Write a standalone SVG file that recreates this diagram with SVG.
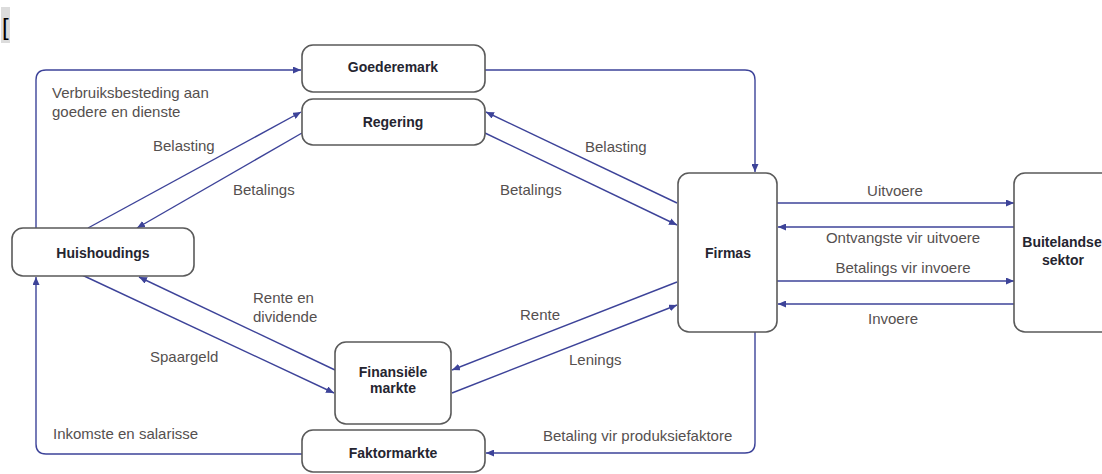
<svg xmlns="http://www.w3.org/2000/svg" width="1102" height="474" viewBox="0 0 1102 474">
<style>
.node rect{fill:#fff;stroke:#5a5a5a;stroke-width:1.6}
.nt{font-family:"Liberation Sans",Arial,sans-serif;font-size:14px;font-weight:bold;fill:#252530;text-anchor:middle}
.lb{font-family:"Liberation Sans",Arial,sans-serif;font-size:15px;fill:#55504f}
.mid{text-anchor:middle}
#connectors path{fill:none;stroke:#3d4399;stroke-width:1.4;marker-end:url(#ah)}
</style>
<defs>
<marker id="ah" viewBox="0 0 8 7" refX="8" refY="3.5" markerWidth="8" markerHeight="7" markerUnits="userSpaceOnUse" orient="auto">
<path d="M0,0 L8,3.5 L0,7 z" fill="#3d4399"/>
</marker>
</defs>
<rect width="1102" height="474" fill="#fff"/>
<rect x="1" y="7" width="9" height="36" fill="#dcdcdc"/>
<text x="2" y="35" font-family="Liberation Sans,Arial,sans-serif" font-size="24" fill="#000">[</text>

<g id="connectors">
<path d="M36,228 V80 Q36,70 46,70 H301"/>
<path d="M485,70 H745 Q755,70 755,80 V172"/>
<path d="M88,228 L301,112"/>
<path d="M302,133 L137,228"/>
<path d="M677,203 L486,112"/>
<path d="M485,133 L677,225"/>
<path d="M777,203 H1014"/>
<path d="M1014,227 H778"/>
<path d="M777,281 H1014"/>
<path d="M1014,304 H778"/>
<path d="M677,282 L452,370"/>
<path d="M452,393 L677,305"/>
<path d="M82,275 L334,393"/>
<path d="M335,370 L139,277"/>
<path d="M755,332 V443 Q755,453 745,453 H486"/>
<path d="M302,454 H46 Q36,454 36,444 V277"/>
</g>

<g id="goederemark" class="node"><rect x="302" y="45" width="183" height="47" rx="11"/><text class="nt" x="393" y="72">Goederemark</text></g>
<g id="regering" class="node"><rect x="302" y="99" width="183" height="46" rx="11"/><text class="nt" x="393" y="127">Regering</text></g>
<g id="huishoudings" class="node"><rect x="12" y="228" width="182" height="48" rx="11"/><text class="nt" x="103" y="258">Huishoudings</text></g>
<g id="firmas" class="node"><rect x="678" y="173" width="99" height="159" rx="11"/><text class="nt" x="728" y="258">Firmas</text></g>
<g id="buitelandse" class="node"><rect x="1014" y="173" width="100" height="159" rx="11"/><text class="nt" x="1062" y="247">Buitelandse</text><text class="nt" x="1063" y="265">sektor</text></g>
<g id="finansiele" class="node"><rect x="335" y="342" width="116" height="82" rx="11"/><text class="nt" x="393" y="377">Finansiële</text><text class="nt" x="393" y="393">markte</text></g>
<g id="faktormarkte" class="node"><rect x="302" y="430" width="183" height="42" rx="11"/><text class="nt" x="393" y="458">Faktormarkte</text></g>

<g id="labels">
<text class="lb" x="52" y="98">Verbruiksbesteding aan</text>
<text class="lb" x="52" y="117">goedere en dienste</text>
<text class="lb" x="153" y="151">Belasting</text>
<text class="lb" x="233" y="195">Betalings</text>
<text class="lb" x="585" y="152">Belasting</text>
<text class="lb" x="500" y="195">Betalings</text>
<text class="lb mid" x="895" y="196">Uitvoere</text>
<text class="lb mid" x="903" y="243">Ontvangste vir uitvoere</text>
<text class="lb mid" x="903" y="273">Betalings vir invoere</text>
<text class="lb mid" x="893" y="324">Invoere</text>
<text class="lb" x="253" y="303">Rente en</text>
<text class="lb" x="253" y="322">dividende</text>
<text class="lb" x="150" y="362">Spaargeld</text>
<text class="lb" x="520" y="320">Rente</text>
<text class="lb" x="569" y="365">Lenings</text>
<text class="lb" x="53" y="439">Inkomste en salarisse</text>
<text class="lb" x="543" y="441">Betaling vir produksiefaktore</text>
</g>
</svg>
